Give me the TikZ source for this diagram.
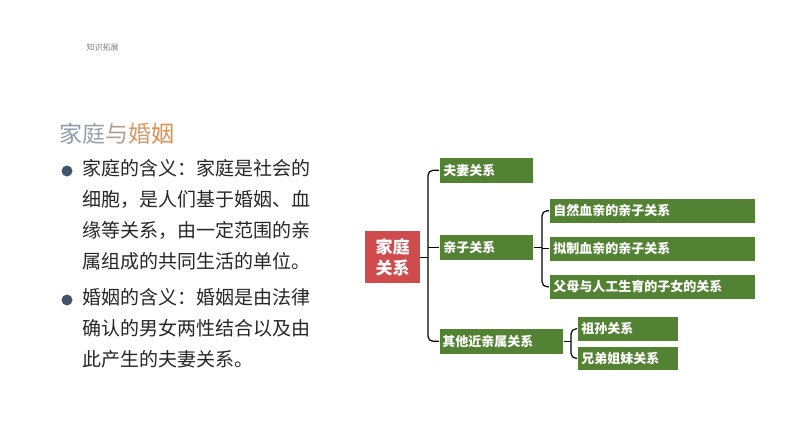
\documentclass[tikz,border=0pt]{standalone}
\usepackage{fontspec}
\setmainfont{Noto Sans CJK SC}
\usetikzlibrary{positioning}
\definecolor{boxgreen}{HTML}{548235}
\definecolor{boxred}{HTML}{D04B4E}
\definecolor{bulletblue}{HTML}{44546A}
\tikzset{
    leaf/.style={fill=boxgreen,draw=white,line width=0.6pt,text=white,font=\bfseries\fontsize{13}{15}\selectfont,anchor=north west,inner sep=0pt,align=left},
    root/.style={fill=boxred,text=white,font=\bfseries\fontsize{17}{21}\selectfont,anchor=north west,inner sep=0pt,align=center},
    brace/.style={line width=1.2pt,rounded corners=5pt},
    body/.style={font=\fontsize{19}{31}\selectfont,anchor=north west,inner sep=0pt,align=left,text=black!85}
}
\begin{document}
\begin{tikzpicture}[x=1pt,y=-1pt]
\useasboundingbox (0,0) rectangle (794,447);
\node[font=\fontsize{8}{10}\selectfont,text=gray,anchor=west] (tag) at (83,47) {知识拓展};
% title
\node[font=\fontsize{23}{26}\selectfont,anchor=west,inner sep=0pt] (title) at (59,134)
  {\textcolor[HTML]{8C9BAB}{家}\textcolor[HTML]{98A0A8}{庭}\textcolor[HTML]{AE9E92}{与}\textcolor[HTML]{D49A6A}{婚}\textcolor[HTML]{E08C4A}{姻}};
% bullets
\fill[bulletblue] (67,171) circle (5.5);
\fill[bulletblue] (67,300) circle (5.5);
\node[body] (def1) at (82,159) {家庭的含义：家庭是社会的\\细胞，是人们基于婚姻、血\\缘等关系，由一定范围的亲\\属组成的共同生活的单位。};
\node[body] (def2) at (82,288) {婚姻的含义：婚姻是由法律\\确认的男女两性结合以及由\\此产生的夫妻关系。};
% mind map
\node[root,minimum width=55,minimum height=52] (family) at (365,231) {家庭\\关系};
\node[leaf,minimum width=94,minimum height=26,text width=86,inner xsep=4pt] (spouse) at (439,157) {夫妻关系};
\node[leaf,minimum width=94,minimum height=26,text width=86,inner xsep=4pt] (child) at (439,234) {亲子关系};
\node[leaf,minimum width=124,minimum height=26,text width=118,inner xsep=3pt] (kin) at (439,328) {其他近亲属关系};
\node[leaf,minimum width=206,minimum height=25,text width=198,inner xsep=4pt] (natural) at (549,198) {自然血亲的亲子关系};
\node[leaf,minimum width=206,minimum height=25,text width=198,inner xsep=4pt] (legal) at (549,236) {拟制血亲的亲子关系};
\node[leaf,minimum width=206,minimum height=25,text width=198,inner xsep=4pt] (artificial) at (549,274) {父母与人工生育的子女的关系};
\node[leaf,minimum width=101,minimum height=25,text width=93,inner xsep=4pt] (grand) at (577,316) {祖孙关系};
\node[leaf,minimum width=101,minimum height=24,text width=93,inner xsep=4pt] (sibling) at (577,346) {兄弟姐妹关系};
% connectors
\coordinate (fork1) at (428,0);
\draw[brace] (family.east) -- (family.east -| fork1);
\draw[brace] (spouse.west) -- (spouse.west -| fork1) -- (kin.west -| fork1) -- (kin.west);
\draw[brace] (child.west -| fork1) -- (child.west);
\coordinate (fork2) at (542,0);
\draw[brace] (child.east) -- (child.east -| fork2);
\draw[brace] (natural.west) -- (natural.west -| fork2) -- (artificial.west -| fork2) -- (artificial.west);
\draw[brace] (legal.west -| fork2) -- (legal.west);
\coordinate (fork3) at (571,0);
\draw[brace] (kin.east) -- (kin.east -| fork3);
\draw[brace] (grand.west) -- (grand.west -| fork3) -- (sibling.west -| fork3) -- (sibling.west);
\end{tikzpicture}
\end{document}
